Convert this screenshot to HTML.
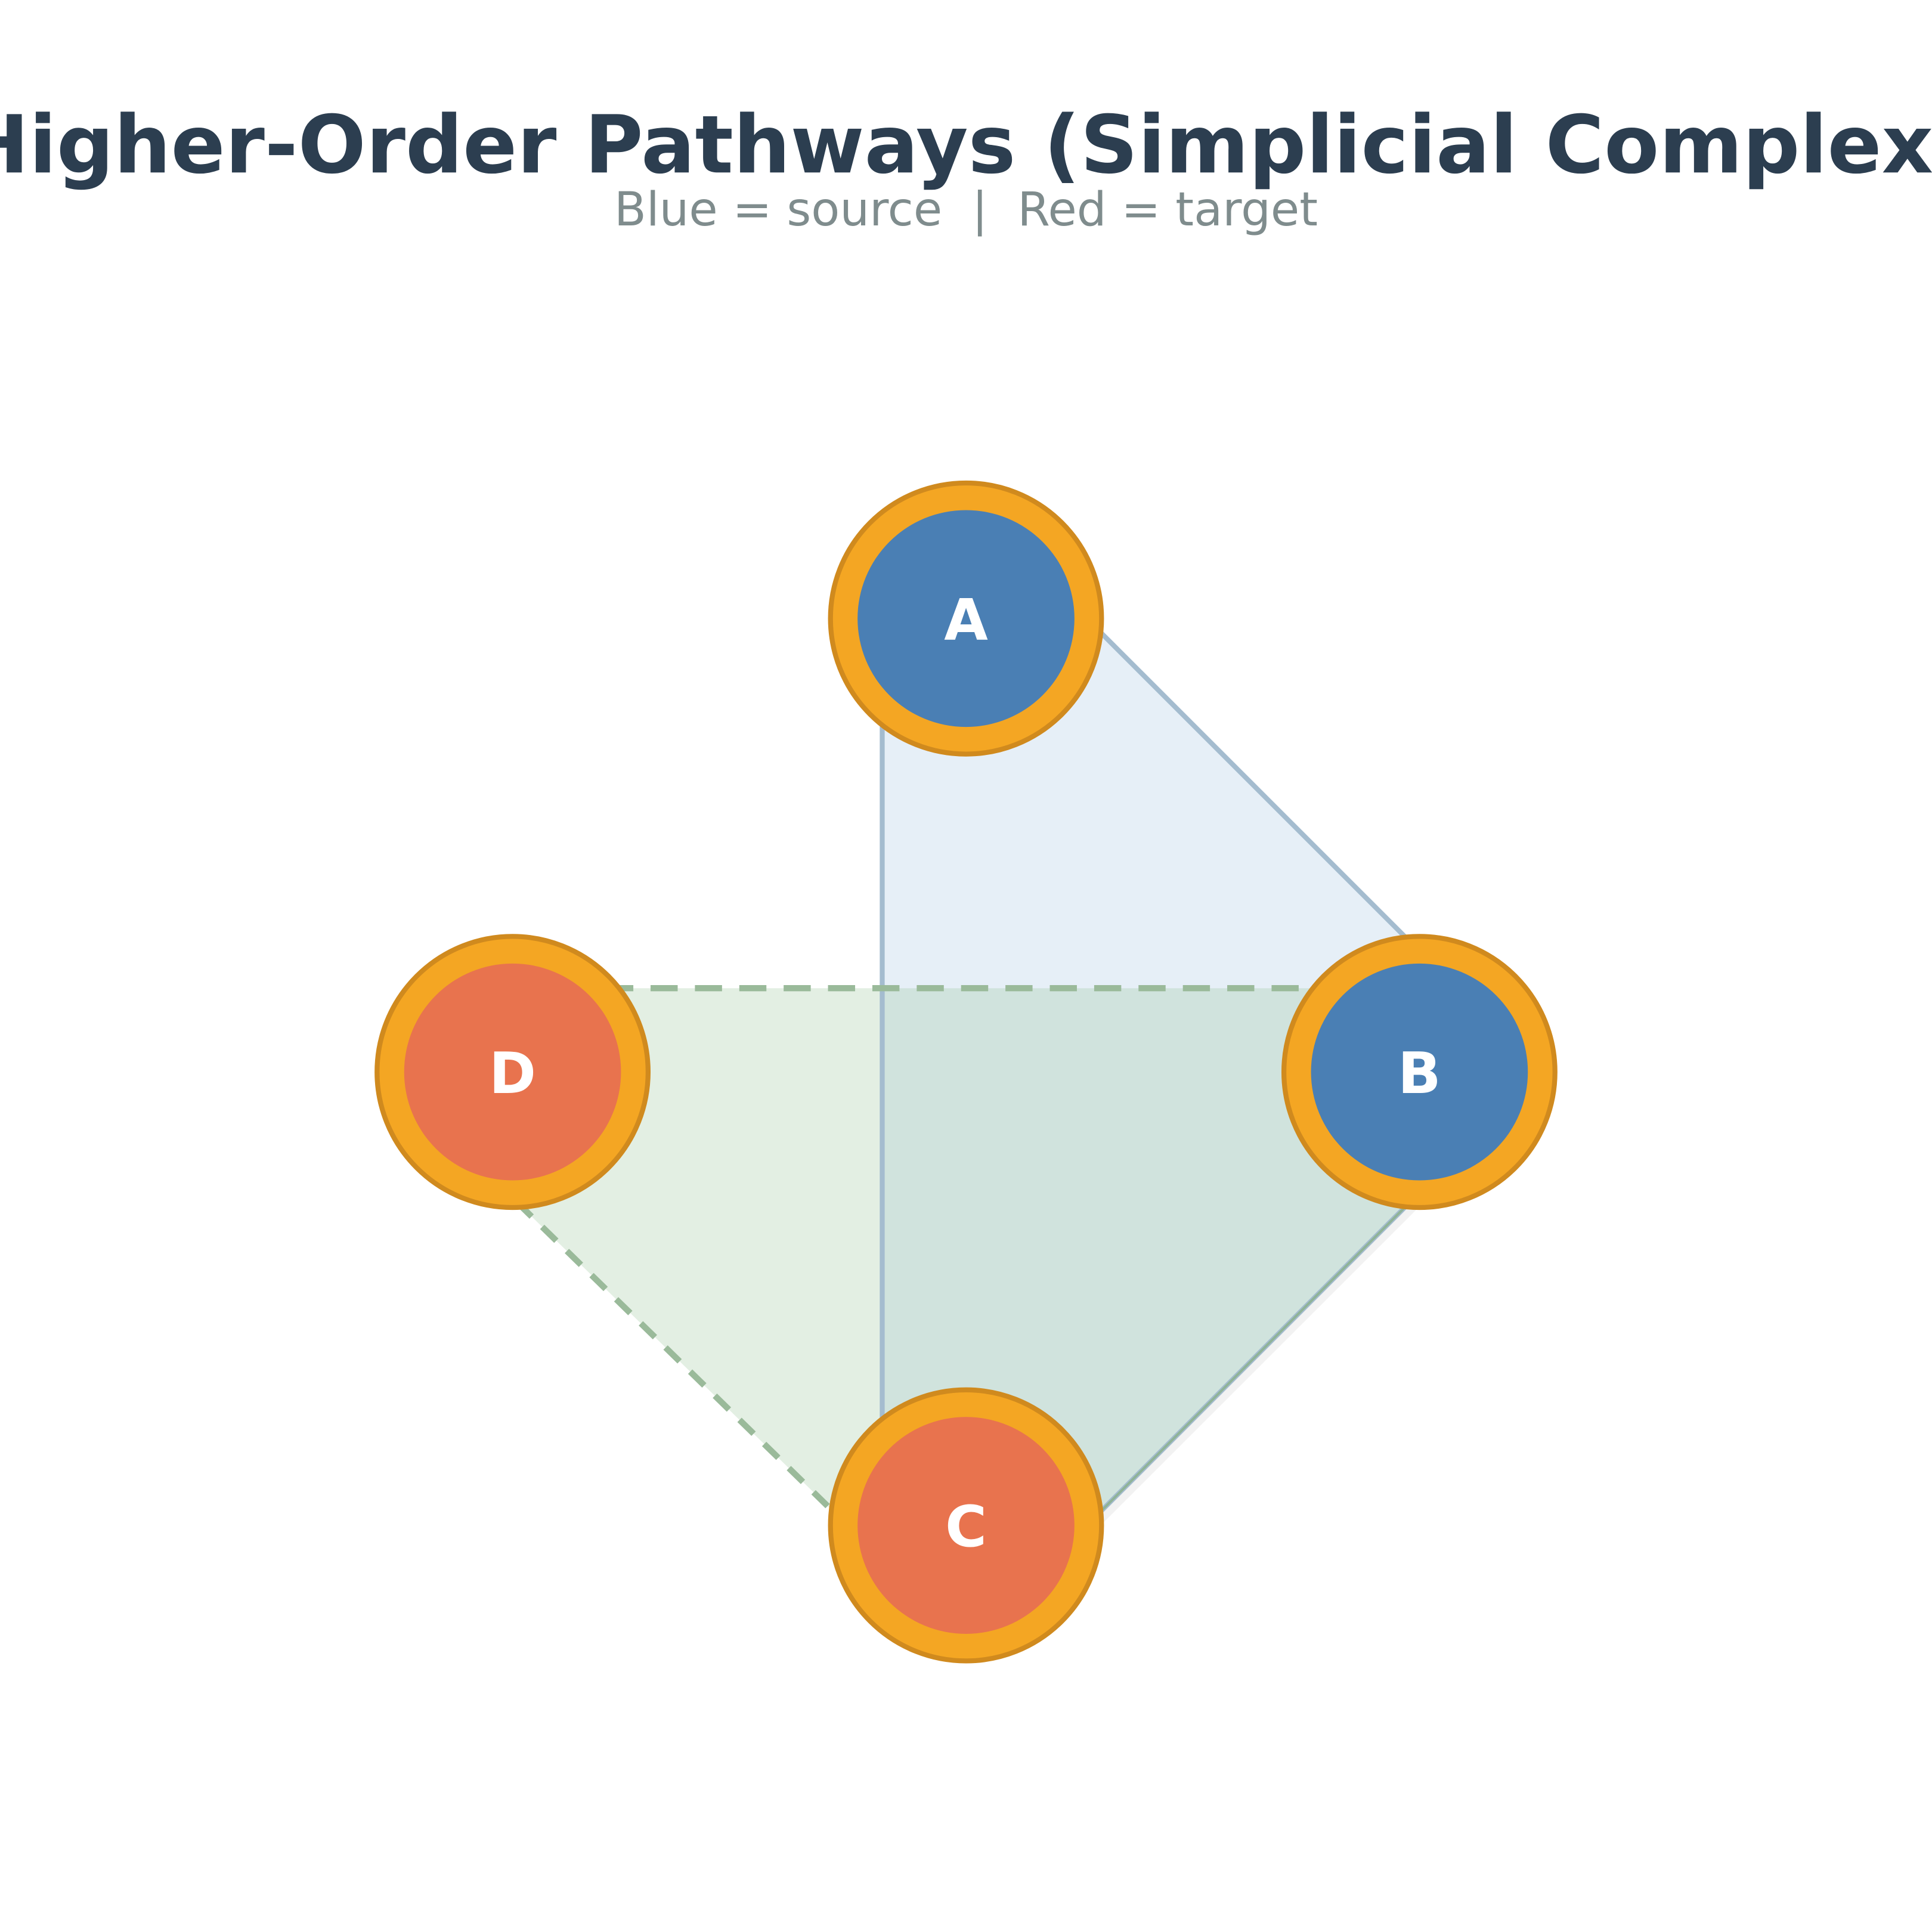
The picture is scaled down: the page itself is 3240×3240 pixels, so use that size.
<!DOCTYPE html>
<html><head><meta charset="utf-8"><style>html,body{margin:0;padding:0;background:#fff}svg{display:block}</style></head>
<body>
<svg width="3240" height="3240" viewBox="0 0 1568 1568" xmlns="http://www.w3.org/2000/svg">
<rect width="1568" height="1568" fill="#fff"/>
<text x="784" y="140" text-anchor="middle" font-family="DejaVu Sans, Liberation Sans, sans-serif" font-weight="bold" font-size="65" fill="#2c3e50">Higher-Order Pathways (Simplicial Complex)</text>
<text x="784" y="183" text-anchor="middle" font-family="DejaVu Sans, Liberation Sans, sans-serif" font-size="38" fill="#7f8c8d" style="white-space:pre" xml:space="preserve">Blue = source  |  Red = target</text>
<polygon points="716,520 860,480 1250,870 820,1300 716,1200" fill="#e6eff7"/>
<polygon points="420,802 1200,802 1200,920 784,1336 700,1250 380,937" fill="#8fc08f" fill-opacity="0.25"/>
<line x1="1250" y1="870" x2="820" y2="1300" stroke="#f2f2f2" stroke-width="6" transform="translate(3,4)"/>
<line x1="716" y1="520" x2="716" y2="1200" stroke="#a4bccf" stroke-width="4"/>
<line x1="860" y1="480" x2="1250" y2="870" stroke="#a4bccf" stroke-width="4"/>
<line x1="1250" y1="870" x2="820" y2="1300" stroke="#a4bccf" stroke-width="4"/>
<line x1="1200" y1="920" x2="784" y2="1336" stroke="#8fb398" stroke-width="2"/>
<line x1="420" y1="802" x2="1200" y2="802" stroke="#9aba9a" stroke-width="5" stroke-dasharray="22,14"/>
<line x1="380" y1="937" x2="700" y2="1250" stroke="#9aba9a" stroke-width="5" stroke-dasharray="16,12"/>
<g font-family="DejaVu Sans, Liberation Sans, sans-serif" font-weight="bold" font-size="46" fill="#fff" text-anchor="middle">
<circle cx="784" cy="502" r="110" fill="#f4a623" stroke="#d08a1e" stroke-width="4"/><circle cx="784" cy="502" r="88" fill="#4a7fb4"/><text x="784" y="519">A</text>
<circle cx="1152" cy="870" r="110" fill="#f4a623" stroke="#d08a1e" stroke-width="4"/><circle cx="1152" cy="870" r="88" fill="#4a7fb4"/><text x="1152" y="887">B</text>
<circle cx="784" cy="1238" r="110" fill="#f4a623" stroke="#d08a1e" stroke-width="4"/><circle cx="784" cy="1238" r="88" fill="#e8734e"/><text x="784" y="1255">C</text>
<circle cx="416" cy="870" r="110" fill="#f4a623" stroke="#d08a1e" stroke-width="4"/><circle cx="416" cy="870" r="88" fill="#e8734e"/><text x="416" y="887">D</text>
</g>
</svg>
</body></html>
